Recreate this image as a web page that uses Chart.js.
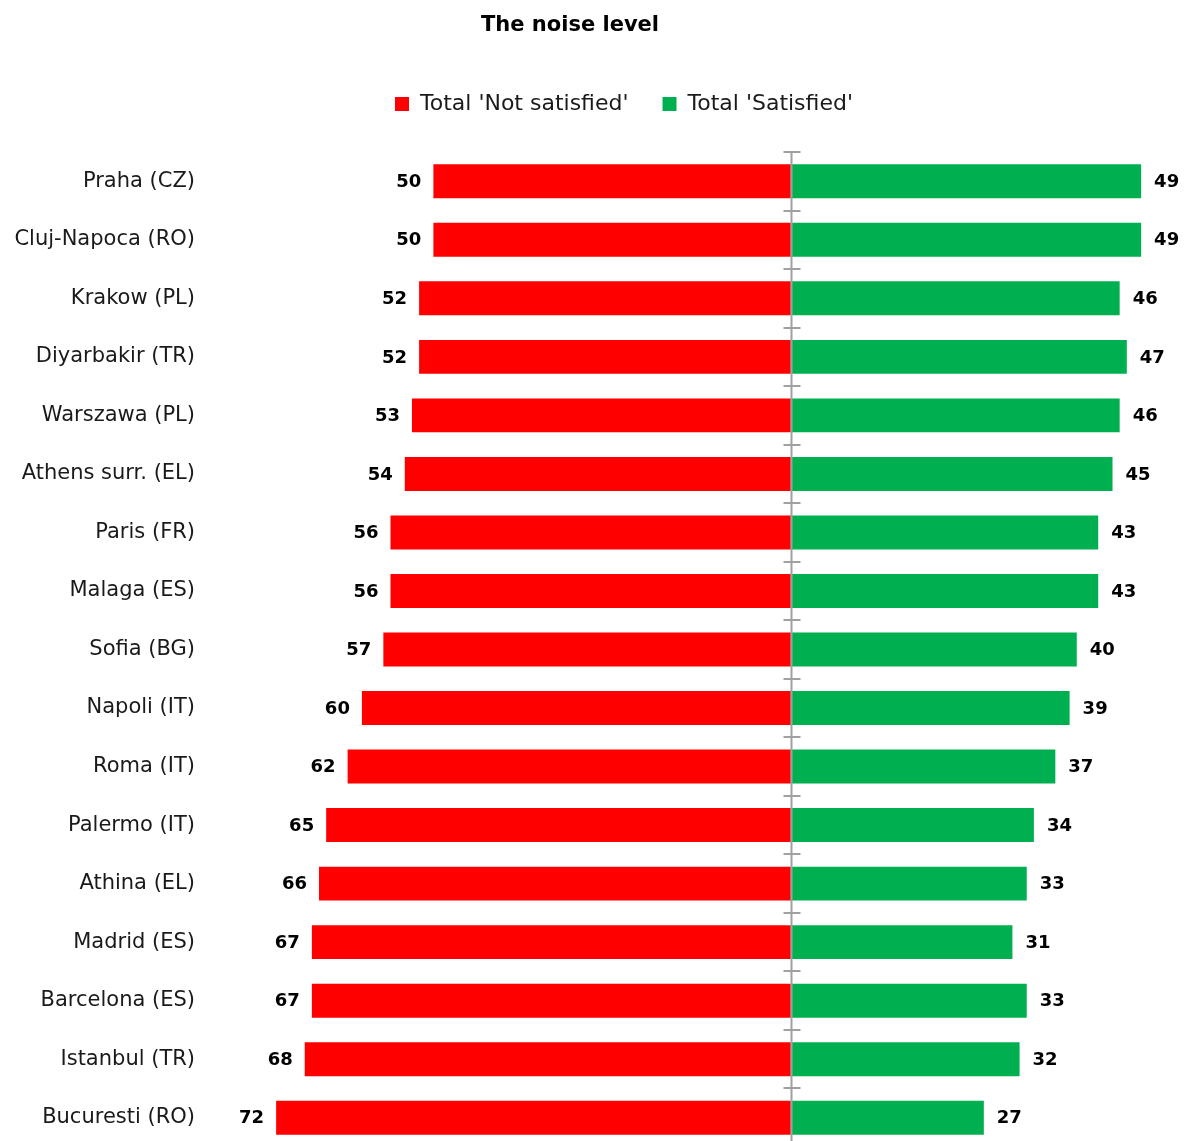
<!DOCTYPE html>
<html>
<head>
<meta charset="utf-8">
<script src="https://cdn.jsdelivr.net/npm/chart.js@4.4.1/dist/chart.umd.min.js"></script>
<style>
  html, body { margin: 0; padding: 0; background: #fff; overflow: hidden; }
  canvas { display: block; }
</style>
</head>
<body>
<canvas id="myChart" width="1184" height="1147"></canvas>
<script>
const cities = [
  'Praha (CZ)', 'Cluj-Napoca (RO)', 'Krakow (PL)', 'Diyarbakir (TR)', 'Warszawa (PL)',
  'Athens surr. (EL)', 'Paris (FR)', 'Malaga (ES)', 'Sofia (BG)', 'Napoli (IT)',
  'Roma (IT)', 'Palermo (IT)', 'Athina (EL)', 'Madrid (ES)', 'Barcelona (ES)',
  'Istanbul (TR)', 'Bucuresti (RO)'
];
const notSatisfied = [50, 50, 52, 52, 53, 54, 56, 56, 57, 60, 62, 65, 66, 67, 67, 68, 72];
const satisfied = [49, 49, 46, 47, 46, 45, 43, 43, 40, 39, 37, 34, 33, 31, 33, 32, 27];

const FONT = "'DejaVu Sans', Verdana, sans-serif";

// title drawn by hand, it sits a bit left of the legend in the original
const titlePlugin = {
  id: 'titleText',
  afterDraw(chart) {
    const ctx = chart.ctx;
    ctx.save();
    ctx.font = 'bold 21px ' + FONT;
    ctx.fillStyle = '#000';
    ctx.textAlign = 'center';
    ctx.textBaseline = 'middle';
    ctx.fillText('The noise level', 570, 26);
    ctx.restore();
  }
};

// extra room under the legend
const legendGap = {
  id: 'legendGap',
  beforeLayout(chart) {
    const lg = chart.legend;
    if (!lg || lg._patched) return;
    const fit = lg.fit;
    lg.fit = function () {
      fit.call(this);
      this.height += 27;
    };
    lg._patched = true;
  }
};

// centre axis with small ticks between rows
const centreAxis = {
  id: 'centreAxis',
  afterDatasetsDraw(chart) {
    const { ctx, scales: { x, y } } = chart;
    const x0 = Math.round(x.getPixelForValue(0)) + 0.5;
    ctx.save();
    ctx.strokeStyle = '#a0a0a0';
    ctx.lineWidth = 2;
    ctx.beginPath();
    ctx.moveTo(x0, y.getPixelForValue(-0.5));
    ctx.lineTo(x0, y.getPixelForValue(cities.length - 0.5));
    ctx.stroke();
    for (let i = 0; i <= cities.length; i++) {
      const ty = Math.round(y.getPixelForValue(i - 0.5));
      ctx.beginPath();
      ctx.moveTo(x0 - 8, ty);
      ctx.lineTo(x0 + 9, ty);
      ctx.stroke();
    }
    ctx.restore();
  }
};

// numbers at the ends of the bars
const valueLabels = {
  id: 'valueLabels',
  afterDatasetsDraw(chart) {
    const ctx = chart.ctx;
    ctx.save();
    ctx.font = 'bold 18px ' + FONT;
    ctx.fillStyle = '#000';
    ctx.textBaseline = 'middle';
    chart.data.datasets.forEach((ds, di) => {
      const meta = chart.getDatasetMeta(di);
      meta.data.forEach((bar, i) => {
        const v = Math.abs(ds.data[i]);
        if (ds.data[i] < 0) {
          ctx.textAlign = 'right';
          ctx.fillText(v, bar.x - 12, bar.y + 1);
        } else {
          ctx.textAlign = 'left';
          ctx.fillText(v, bar.x + 13, bar.y + 1);
        }
      });
    });
    ctx.restore();
  }
};

const config = {
  type: 'bar',
  data: {
    labels: cities,
    datasets: [
      {
        label: "Total 'Not satisfied'",
        data: notSatisfied.map((v) => -v),
        backgroundColor: '#ff0000',
        barPercentage: 0.58,
        categoryPercentage: 1
      },
      {
        label: "Total 'Satisfied'",
        data: satisfied,
        backgroundColor: '#00b050',
        barPercentage: 0.58,
        categoryPercentage: 1
      }
    ]
  },
  options: {
    indexAxis: 'y',
    responsive: false,
    animation: false,
    devicePixelRatio: 1,
    // negative right padding pushes the legend centre right, like the original
    layout: { padding: { top: 59, left: 0, right: -64, bottom: 0 } },
    scales: {
      x: {
        stacked: true,
        display: false,
        min: -81.25,
        max: 55
      },
      y: {
        stacked: true,
        grid: { display: false, drawTicks: false },
        border: { display: false },
        ticks: {
          padding: 15,
          color: '#1a1a1a',
          font: { family: FONT, size: 21 }
        },
        afterFit(scale) {
          scale.width = 210;
          scale.paddingTop = 0;
          scale.paddingBottom = 0;
        }
      }
    },
    plugins: {
      title: { display: false },
      tooltip: { enabled: false },
      legend: {
        position: 'top',
        labels: {
          boxWidth: 14,
          boxHeight: 14,
          padding: 34,
          color: '#1a1a1a',
          font: { family: FONT, size: 22 }
        }
      }
    }
  },
  plugins: [titlePlugin, legendGap, centreAxis, valueLabels]
};

const ctx = document.getElementById('myChart').getContext('2d');
const myChart = new Chart(ctx, config);
</script>
</body>
</html>
